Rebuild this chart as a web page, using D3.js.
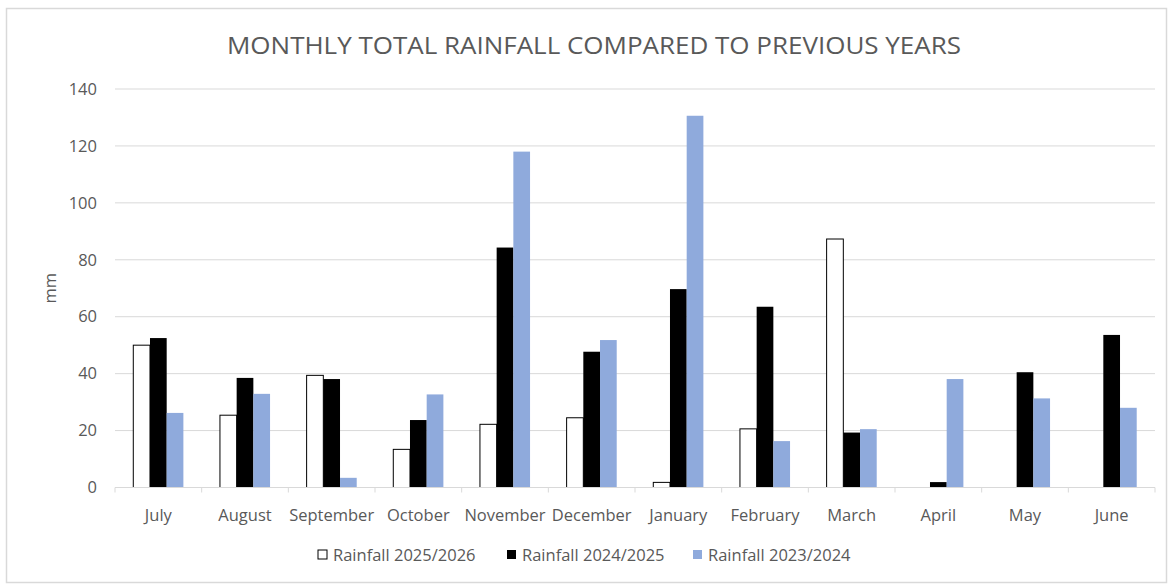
<!DOCTYPE html>
<html>
<head>
<meta charset="utf-8">
<script src="https://cdn.jsdelivr.net/npm/d3@7"></script>
<style>
  html, body { margin: 0; padding: 0; background: #ffffff; }
  svg { display: block; }
  text { font-family: "Open Sans", "Liberation Sans", sans-serif; }
</style>
</head>
<body>
<svg id="chart" width="1175" height="586"></svg>
<script>
// Monthly rainfall totals (mm), July through June
const months = ["July", "August", "September", "October", "November", "December",
                "January", "February", "March", "April", "May", "June"];
const seriesNames = ["Rainfall 2025/2026", "Rainfall 2024/2025", "Rainfall 2023/2024"];
const rain2025_26 = [50, 25.4, 39.4, 13.4, 22.2, 24.5, 1.8, 20.6, 87.3, null, null, null];
const rain2024_25 = [52.5, 38.5, 38.1, 23.7, 84.3, 47.7, 69.7, 63.5, 19.3, 1.9, 40.5, 53.6];
const rain2023_24 = [26.2, 32.9, 3.4, 32.7, 118, 51.8, 130.6, 16.3, 20.5, 38.1, 31.3, 28];
const yTicks = [0, 20, 40, 60, 80, 100, 120, 140];

const seriesValues = [rain2025_26, rain2024_25, rain2023_24];
const fills = ["#ffffff", "#000000", "#8faadc"];
const strokes = ["#000000", "none", "none"];

const svg = d3.select("#chart");
const plot = { left: 115, right: 1155, top: 89, bottom: 487.5 };

// outer chart frame
svg.append("rect")
  .attr("x", 6.5).attr("y", 8.5)
  .attr("width", 1160).attr("height", 574)
  .attr("fill", "#ffffff")
  .attr("stroke", "#d9d9d9").attr("stroke-width", 1.5);

const x0 = d3.scaleBand().domain(months).range([plot.left, plot.right]);
const groupW = x0.bandwidth() * 3 / (3 + 2.19);
const x1 = d3.scaleBand().domain(d3.range(3))
  .range([(x0.bandwidth() - groupW) / 2, (x0.bandwidth() + groupW) / 2]);
const y = d3.scaleLinear().domain([0, 140]).range([plot.bottom, plot.top]);

// horizontal gridlines
svg.append("g")
  .selectAll("line")
  .data(yTicks.filter(d => d > 0))
  .join("line")
  .attr("x1", plot.left).attr("x2", plot.right)
  .attr("y1", d => y(d)).attr("y2", d => y(d))
  .attr("stroke", "#d9d9d9").attr("stroke-width", 1);

// y axis labels
const yAxis = d3.axisLeft(y).tickValues(yTicks).tickSize(0).tickPadding(18);
svg.append("g")
  .attr("transform", `translate(${plot.left},0)`)
  .call(yAxis)
  .call(g => g.select(".domain").remove())
  .call(g => g.selectAll("text")
    .attr("fill", "#595959")
    .style("font-size", "16.5px")
    .style("font-family", "'Open Sans', sans-serif"));

// bars
const groups = svg.append("g")
  .selectAll("g")
  .data(months)
  .join("g")
  .attr("transform", d => `translate(${x0(d)},0)`);

groups.selectAll("rect")
  .data((m, i) => seriesValues.map((vals, s) => ({ s, v: vals[i] })).filter(d => d.v != null))
  .join("rect")
  .attr("x", d => x1(d.s))
  .attr("width", x1.bandwidth())
  .attr("y", d => y(d.v))
  .attr("height", d => y(0) - y(d.v))
  .attr("fill", d => fills[d.s])
  .attr("stroke", d => strokes[d.s])
  .attr("stroke-width", 1);

// category axis with boundary tick marks
const axisG = svg.append("g");
axisG.append("line")
  .attr("x1", plot.left).attr("x2", plot.right)
  .attr("y1", y(0)).attr("y2", y(0))
  .attr("stroke", "#d9d9d9").attr("stroke-width", 1);
axisG.selectAll("line.tick")
  .data(months.map(m => x0(m)).concat([plot.right]))
  .join("line")
  .attr("class", "tick")
  .attr("x1", d => d).attr("x2", d => d)
  .attr("y1", y(0)).attr("y2", y(0) + 5)
  .attr("stroke", "#d9d9d9").attr("stroke-width", 1);
axisG.selectAll("text")
  .data(months)
  .join("text")
  .attr("x", d => x0(d) + x0.bandwidth() / 2)
  .attr("y", y(0) + 33)
  .attr("text-anchor", "middle")
  .attr("fill", "#595959")
  .style("font-size", "16.5px")
  .text(d => d);

// y axis title
svg.append("text")
  .attr("transform", `translate(56,${(plot.top + plot.bottom) / 2}) rotate(-90)`)
  .attr("text-anchor", "middle")
  .attr("fill", "#595959")
  .style("font-size", "16.5px")
  .text("mm");

// chart title
svg.append("text")
  .attr("x", 594).attr("y", 54)
  .attr("text-anchor", "middle")
  .attr("fill", "#595959")
  .attr("textLength", 734)
  .attr("lengthAdjust", "spacingAndGlyphs")
  .style("font-size", "24px")
  .text("MONTHLY TOTAL RAINFALL COMPARED TO PREVIOUS YEARS");

// legend
const legendX = [318, 507, 693];
const legend = svg.append("g")
  .selectAll("g")
  .data(seriesNames)
  .join("g")
  .attr("transform", (d, i) => `translate(${legendX[i]},555)`);
legend.append("rect")
  .attr("x", 0).attr("y", -5)
  .attr("width", 9).attr("height", 9)
  .attr("fill", (d, i) => fills[i])
  .attr("stroke", (d, i) => strokes[i])
  .attr("stroke-width", 1);
legend.append("text")
  .attr("x", 15).attr("y", 6)
  .attr("fill", "#595959")
  .style("font-size", "16.5px")
  .text(d => d);
</script>
</body>
</html>
